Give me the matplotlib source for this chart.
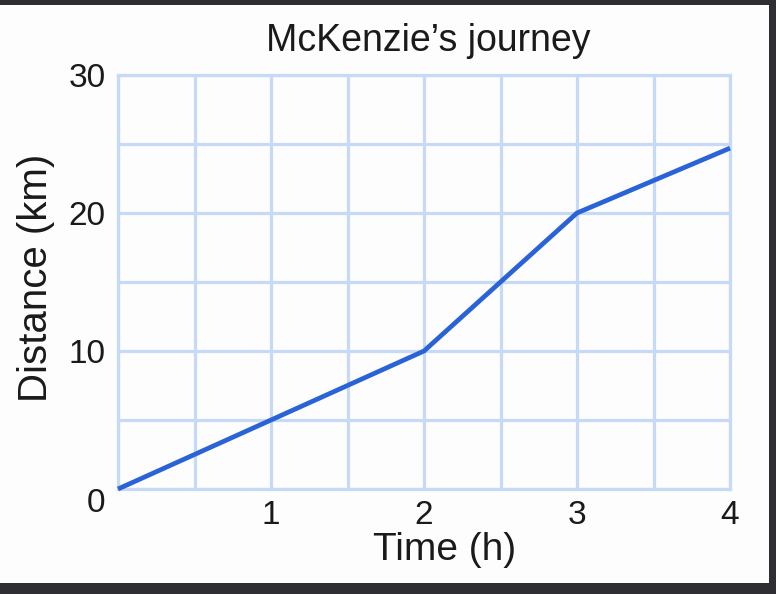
import matplotlib.pyplot as plt
from matplotlib.patches import Rectangle
from matplotlib.transforms import ScaledTranslation

# data
time_h = [0, 1, 2, 3, 4]
distance_km = [0, 5, 10, 20, 24.7]
x_ticks = [1, 2, 3, 4]
y_ticks = [0, 10, 20, 30]
x_grid = [0, 0.5, 1, 1.5, 2, 2.5, 3, 3.5, 4]
y_grid = [0, 5, 10, 15, 20, 25, 30]

plt.rcParams['font.family'] = ['Liberation Sans', 'DejaVu Sans']

grid_col = "#c6d9f6"
line_col = "#2a63d8"
txt_col = "#1a1a1a"

fig = plt.figure(figsize=(7.76, 5.94), dpi=100, facecolor="#2f2f33")
# white screenshot area
fig.add_artist(Rectangle((0, 11/594), 769/776, 578/594, transform=fig.transFigure,
                         facecolor="#fdfdfd", edgecolor="none", zorder=-10))

ax = fig.add_axes([118/776, 105/594, 612/776, 414/594])
ax.set_facecolor("#fdfdfd")
ax.plot(time_h, distance_km, color=line_col, lw=3.4, solid_capstyle="butt", zorder=3, clip_on=False)

ax.set_xlim(0, 4)
ax.set_ylim(0, 30)
ax.set_xticks(x_grid)
ax.set_yticks(y_grid)
ax.grid(True, color=grid_col, lw=2.3)
ax.set_xticklabels([str(int(t)) if t in x_ticks else "" for t in x_grid])
ax.set_yticklabels([str(int(t)) if t in y_ticks else "" for t in y_grid])
ax.tick_params(length=0, labelsize=24, colors=txt_col)
ax.tick_params(axis="x", pad=8)
ax.tick_params(axis="y", pad=9)
for s in ax.spines.values():
    s.set_color(grid_col)
    s.set_linewidth(2.3)

# the 0 label sits a bit lower in the original
for lab in ax.get_yticklabels():
    if lab.get_text() == "0":
        lab.set_transform(lab.get_transform() + ScaledTranslation(0, -0.11, fig.dpi_scale_trans))

ax.set_title("McKenzie\u2019s journey", fontsize=27, color=txt_col, x=0.507, pad=17)
ax.set_xlabel("Time (h)", fontsize=28, color=txt_col)
ax.xaxis.set_label_coords(0.534, -0.105)
ax.set_ylabel("Distance (km)", fontsize=29, color=txt_col)
ax.yaxis.set_label_coords(-0.103, 0.51)

fig.savefig("out.png", dpi=100, facecolor=fig.get_facecolor())
